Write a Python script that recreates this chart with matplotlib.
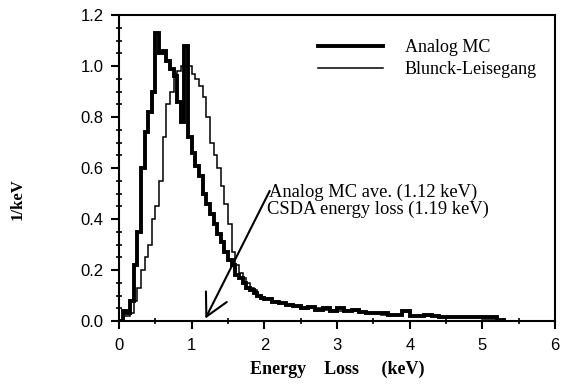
import numpy as np
import matplotlib.pyplot as plt
from matplotlib.ticker import MultipleLocator

# bin edges: 0.05 keV up to 2 keV, then 0.1 keV up to 5.3 keV
bin_lo = np.arange(0.0, 2.0001, 0.05)
bin_hi = np.arange(2.1, 5.3001, 0.1)
edges = np.concatenate([bin_lo, bin_hi])

analog_mc = [0.0, 0.04, 0.03, 0.08, 0.22, 0.35, 0.60, 0.74, 0.82, 0.90,
             1.13, 1.05, 1.06, 1.02, 0.99, 0.96, 0.86, 0.78, 1.08, 0.72,
             0.66, 0.61, 0.57, 0.50, 0.46, 0.42, 0.38, 0.34, 0.31, 0.27,
             0.24, 0.22, 0.18, 0.17, 0.15, 0.13, 0.12, 0.11, 0.10, 0.09,
             0.085, 0.075, 0.07, 0.065, 0.06, 0.05, 0.055, 0.045, 0.05, 0.04,
             0.05, 0.04, 0.045, 0.035, 0.03, 0.03, 0.03, 0.025, 0.025, 0.04,
             0.02, 0.02, 0.025, 0.02, 0.015, 0.015, 0.015, 0.015, 0.015, 0.015,
             0.015, 0.015, 0.005]
blunck = [0.0, 0.02, 0.02, 0.03, 0.08, 0.13, 0.20, 0.25, 0.30, 0.40,
          0.45, 0.55, 0.72, 0.85, 0.90, 0.97, 0.98, 1.00, 1.00, 1.00,
          0.97, 0.95, 0.92, 0.88, 0.80, 0.70, 0.65, 0.60, 0.53, 0.46,
          0.38, 0.27, 0.22, 0.19, 0.17, 0.15, 0.13, 0.12, 0.10, 0.095,
          0.085, 0.08, 0.07, 0.065, 0.06, 0.055, 0.05, 0.05, 0.045, 0.045,
          0.04, 0.045, 0.04, 0.035, 0.03, 0.03, 0.025, 0.025, 0.025, 0.035,
          0.02, 0.02, 0.02, 0.02, 0.015, 0.015, 0.015, 0.015, 0.015, 0.015,
          0.01, 0.01, 0.005]

fig = plt.figure(figsize=(5.67, 3.85), dpi=100)
ax = fig.add_axes([0.21, 0.166, 0.769, 0.795])

ax.stairs(analog_mc, edges, color='black', lw=2.8, label='Analog MC')
ax.stairs(blunck, edges, color='black', lw=1.1, label='Blunck-Leisegang')

ax.set_xlim(0, 6)
ax.set_ylim(0, 1.2)
ax.xaxis.set_major_locator(MultipleLocator(1))
ax.xaxis.set_minor_locator(MultipleLocator(0.5))
ax.yaxis.set_major_locator(MultipleLocator(0.2))
ax.yaxis.set_minor_locator(MultipleLocator(0.05))
ax.yaxis.set_major_formatter(plt.FormatStrFormatter('%.1f'))
ax.tick_params(which='major', direction='out', length=6, width=1.5, labelsize=12)
ax.tick_params(axis='x', which='major', pad=6)
ax.tick_params(axis='y', which='major', pad=5)
ax.tick_params(which='minor', direction='inout', length=5, width=1.2)
for lab in ax.get_xticklabels() + ax.get_yticklabels():
    lab.set_fontfamily('Liberation Sans')
for s in ax.spines.values():
    s.set_linewidth(1.5)

ax.set_xlabel('Energy    Loss     (keV)', family='Liberation Serif', weight='bold', fontsize=13, labelpad=6)
ax.set_ylabel('1/keV', family='Liberation Serif', weight='bold', fontsize=12)
ax.yaxis.set_label_coords(-0.214, 0.40)

leg = ax.legend(loc='upper right', frameon=False, prop={'family': 'Liberation Serif', 'size': 13},
                handlelength=3.6, bbox_to_anchor=(0.995, 0.975), labelspacing=0.3, handletextpad=1.2)

ax.annotate('', xy=(1.17, 0.0), xytext=(2.09, 0.52),
            arrowprops=dict(arrowstyle='->,head_length=0.8,head_width=0.42', lw=1.5,
                            color='black', mutation_scale=20))
ax.text(2.06, 0.505, 'Analog MC ave. (1.12 keV)', family='Liberation Serif', fontsize=13.3, va='center')
ax.text(2.04, 0.437, 'CSDA energy loss (1.19 keV)', family='Liberation Serif', fontsize=13.3, va='center')

fig.savefig('out.png', dpi=100)
